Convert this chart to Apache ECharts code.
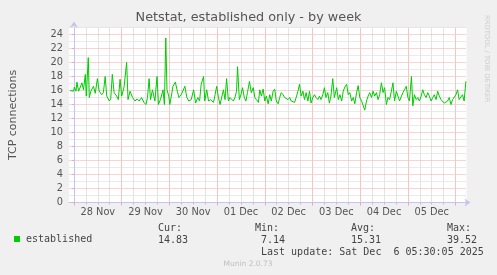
<!DOCTYPE html>
<html><head><meta charset="utf-8">
<script src="https://cdn.jsdelivr.net/npm/echarts@6/dist/echarts.min.js"></script>
<style>html,body{margin:0;padding:0;background:#f0f0f0}#c{width:497px;height:275px}</style>
</head><body><div id="c"></div>
<script>
// ---- data (hours relative to 28 Nov 00:00) ----
const titleText = 'Netstat, established only - by week';
const yAxisName = 'TCP connections';
const seriesName = 'established';
const hours = [
-2.0,-1.0,-0.2,0.2,1.0,1.5,2.3,3.2,4.0,4.8,5.7,6.2,7.2,7.7,8.5,9.8,10.7,11.8,12.7,14.0,14.8,15.7,16.5,17.8,18.5,19.3,20.2,21.5,22.3,23.2,
24.0,25.2,26.5,27.2,28.2,29.5,30.7,31.8,32.8,34.0,35.2,36.2,37.0,37.8,38.5,39.5,40.7,41.8,42.5,43.5,44.8,45.5,46.2,46.8,47.7,
48.2,49.0,49.8,51.0,52.0,52.8,54.0,54.8,55.8,56.8,57.8,59.0,60.2,61.2,62.3,63.2,64.0,65.2,65.8,66.8,67.7,68.8,70.2,71.0,71.8,
72.7,73.5,74.3,75.2,76.0,76.8,77.7,78.5,79.3,80.2,81.0,81.8,82.3,83.2,84.0,84.8,85.7,86.5,87.3,88.3,89.2,90.2,91.0,91.8,92.8,93.5,94.3,95.2,
96.0,96.8,97.7,98.5,99.3,100.2,101.0,101.8,102.7,103.5,104.3,105.2,106.0,106.8,107.7,108.5,109.3,110.2,111.0,111.8,112.7,113.5,114.3,115.2,116.0,116.8,117.7,118.5,119.3,
120.2,121.0,121.8,122.7,123.5,124.3,125.2,126.0,126.8,127.7,128.5,129.3,130.2,131.0,132.2,133.0,133.8,134.7,135.5,136.3,137.2,138.0,138.8,139.7,140.5,141.3,142.2,143.0,
143.8,144.7,145.5,146.3,147.2,148.0,148.8,149.7,150.5,151.3,152.2,153.0,153.8,154.7,155.5,156.3,157.2,158.0,158.8,159.7,160.5,161.3,162.2,163.0,163.8,164.7,165.5,166.3,
167.2,168.0,168.8,169.8,170.5,171.3,172.2,173.0,173.8,174.7,175.5,176.3,177.2,178.0,178.8,179.7,180.5,181.3,182.2,183.0,183.8,184.7,185.5,186.3,187.2,188.0,188.8,189.7,
190.5,191.3,192.2,193.0,193.8,194.7,195.5,196.3,197.2
];
const values = [
16.0,16.2,15.9,16.5,15.9,17.2,15.9,16.5,17.1,16.1,18.3,15.2,20.7,15.0,15.9,16.6,15.6,17.7,15.9,15.4,15.7,18.0,15.2,14.5,14.8,18.3,15.7,15.2,14.7,17.6,
15.2,16.5,20.0,14.7,15.9,15.0,14.5,14.8,14.5,15.0,14.3,14.0,15.0,17.7,14.7,16.1,14.5,18.0,14.0,14.7,16.1,14.0,23.5,16.1,15.2,
14.0,15.2,16.6,17.2,15.9,15.0,15.4,15.2,16.6,15.0,14.5,14.7,16.1,14.2,15.0,14.5,16.9,18.0,14.5,16.1,14.5,14.7,14.3,15.4,16.6,
15.0,14.0,14.1,16.1,14.7,17.7,14.5,15.0,15.2,14.5,15.0,15.9,19.4,14.7,15.4,16.4,15.0,14.5,15.7,17.3,15.7,16.4,15.0,14.7,14.3,16.1,15.2,16.2,
14.5,15.2,14.1,15.4,14.5,15.9,16.2,14.5,14.1,15.0,15.7,15.4,15.0,15.2,14.7,15.0,14.5,14.7,14.3,15.0,15.9,16.9,15.2,15.9,14.7,15.7,14.5,15.9,14.2,
15.0,15.4,15.0,14.7,15.2,14.7,15.4,16.4,15.0,15.7,14.2,15.2,17.7,15.0,16.4,14.7,15.4,14.5,15.9,16.5,16.9,15.4,15.7,14.5,15.0,14.1,15.7,16.7,
15.0,14.5,14.7,13.2,14.5,15.2,15.7,15.0,15.9,15.2,15.7,14.7,15.4,17.1,15.7,16.4,14.0,15.0,14.7,15.9,17.1,14.5,15.9,15.2,14.5,14.7,15.7,16.1,
16.6,15.0,14.5,18.0,13.8,15.4,14.7,15.0,14.5,15.2,16.1,15.4,15.0,15.7,15.2,14.5,15.0,15.4,14.7,15.9,15.2,14.7,14.5,14.2,14.0,14.5,15.0,14.0,
14.7,14.5,15.4,16.1,14.7,14.5,15.4,14.5,17.3
];
const dayLabels = ['28 Nov','29 Nov','30 Nov','01 Dec','02 Dec','03 Dec','04 Dec','05 Dec'];
const dayLabelHours = [12,36,60,84,108,132,156,180];
const statLabels = ['Cur:','Min:','Avg:','Max:'];
const statValues = ['14.83','7.14','15.31','39.52'];
const lastUpdate = 'Last update: Sat Dec  6 05:30:05 2025';
const footer = 'Munin 2.0.73';
const sideText = 'RRDTOOL / TOBI OETIKER';
const xMin = -2.5, xMax = 197.5, yMin = 0, yMax = 25;

// ---- build ----
const MAJOR = '#eeaaaa', MINOR = '#d4d4d4', AXIS = '#c4c4f2', TXT = '#555';
const MAJOR_V = '#f3c6c6', MINOR_V = '#e4e4e4';
const minorHours = [], majorHours = [];
for (let h = 0; h <= xMax; h += 6) (h % 24 === 0 ? majorHours : minorHours).push(h);
const minorVals = [], majorVals = [];
for (let v = yMin; v <= yMax; v += 1) (v % 2 === 0 ? majorVals : minorVals).push(v);

const chart = echarts.init(document.getElementById('c'), null, {renderer: 'canvas'});
const mono = 'DejaVu Sans Mono';
const statX = [158, 255, 351, 447];
const statValX = [158, 261, 351, 447];
const graphics = [
  {type: 'text', x: 487, y: 15, rotation: -Math.PI / 2,
   style: {text: sideText, fontFamily: 'DejaVu Sans', fontSize: 6.8, fill: '#cccccc', textAlign: 'left', textVerticalAlign: 'middle'}},
  {type: 'text', x: 261, y: 252, style: {text: lastUpdate, fontFamily: mono, fontSize: 10, fill: '#444', textVerticalAlign: 'middle'}},
  {type: 'text', x: 248, y: 264, style: {text: footer, fontFamily: 'DejaVu Sans', fontSize: 7.5, fill: '#c0c0c0', textAlign: 'center', textVerticalAlign: 'middle'}}
];
statLabels.forEach((s, i) => {
  graphics.push({type: 'text', x: statX[i], y: 228, style: {text: s, fontFamily: mono, fontSize: 10, fill: '#444', textVerticalAlign: 'middle'}});
  graphics.push({type: 'text', x: statValX[i], y: 240, style: {text: statValues[i], fontFamily: mono, fontSize: 10, fill: '#444', textVerticalAlign: 'middle'}});
});
const dotted = c => ({color: c, type: [1, 1], dashOffset: 0.5, width: 1});
const solid = c => ({color: c, type: 'solid', width: 1});

chart.setOption({
  animation: false,
  backgroundColor: '#f0f0f0',
  title: {text: titleText, left: 'center', top: 11, padding: 0,
          textStyle: {fontFamily: 'DejaVu Sans', fontSize: 12.8, fontWeight: 'normal', color: TXT}},
  legend: {data: [seriesName], left: 14, top: 234, padding: 0, icon: 'rect', itemWidth: 6, itemHeight: 6,
           textStyle: {fontFamily: mono, fontSize: 10, color: '#444', padding: [0, 0, 0, 1]}},
  grid: {left: 66.5, right: 30.5, top: 27.5, bottom: 72.5, show: true, backgroundColor: '#ffffff', borderWidth: 0},
  xAxis: [
    {type: 'value', min: xMin, max: xMax, position: 'bottom', z: 1,
     axisLine: {show: false},
     axisTick: {show: true, customValues: minorHours, length: 2, lineStyle: {color: MAJOR}},
     axisLabel: {show: false},
     splitLine: {show: true, lineStyle: solid(MINOR_V)}},
    {type: 'value', min: xMin, max: xMax, position: 'bottom', z: 2,
     axisLine: {show: true, lineStyle: {color: AXIS}, symbol: ['none', 'arrow'], symbolSize: [6, 6], symbolOffset: [0, 4]},
     axisTick: {show: true, customValues: majorHours, length: 3, lineStyle: {color: MAJOR}},
     axisLabel: {customValues: dayLabelHours, formatter: v => dayLabels[dayLabelHours.indexOf(v)] || '',
                 fontFamily: 'DejaVu Sans', fontSize: 9.8, color: TXT, margin: 5},
     splitLine: {show: true, lineStyle: solid(MAJOR_V)}}
  ],
  yAxis: [
    {type: 'value', min: yMin, max: yMax, position: 'left', z: 1,
     axisLine: {show: false},
     axisTick: {show: false, customValues: minorVals},
     axisLabel: {show: false},
     splitLine: {show: true, lineStyle: dotted(MINOR)}},
    {type: 'value', min: yMin, max: yMax, position: 'left', z: 2,
     name: yAxisName, nameLocation: 'middle', nameGap: 50,
     nameTextStyle: {fontFamily: 'DejaVu Sans', fontSize: 11, color: TXT},
     axisLine: {show: true, lineStyle: {color: AXIS}, symbol: ['none', 'arrow'], symbolSize: [6, 6], symbolOffset: [0, 6]},
     axisTick: {show: true, customValues: majorVals, length: 2, lineStyle: {color: MAJOR}},
     axisLabel: {customValues: majorVals, fontFamily: 'DejaVu Sans', fontSize: 9.8, color: TXT, margin: 6},
     splitLine: {show: true, lineStyle: dotted(MAJOR)}}
  ],
  graphic: graphics,
  series: [
    {name: seriesName, type: 'line', xAxisIndex: 1, yAxisIndex: 1, z: 3, showSymbol: false, symbol: 'none',
     lineStyle: {color: '#00cc00', width: 1}, itemStyle: {color: '#00cc00'},
     data: hours.map((h, i) => [h, values[i]])}
  ]
});
</script></body></html>
